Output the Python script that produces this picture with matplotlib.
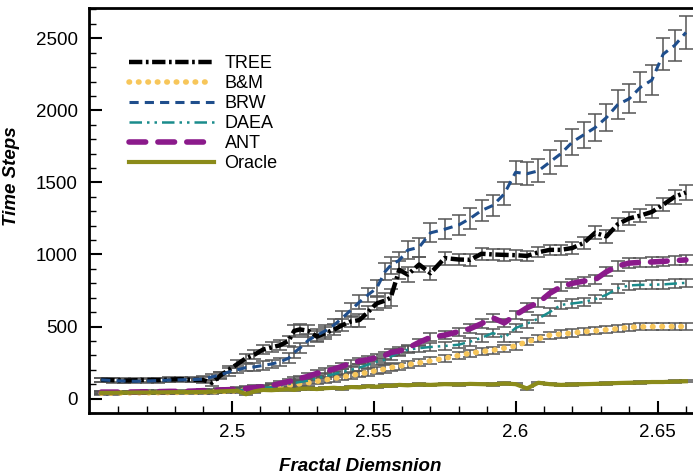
import numpy as np
import matplotlib.pyplot as plt

plt.rcParams['font.family'] = ['Liberation Sans', 'DejaVu Sans']

# data to plot
fd = [2.454, 2.458, 2.462, 2.466, 2.470, 2.474, 2.478, 2.482, 2.486, 2.490,
      2.493, 2.496, 2.499, 2.502, 2.505, 2.508, 2.511, 2.514, 2.517, 2.520,
      2.522, 2.524, 2.527, 2.530, 2.533, 2.536, 2.539, 2.542, 2.545, 2.548,
      2.551, 2.554, 2.556, 2.559, 2.562, 2.566, 2.570, 2.575, 2.580, 2.584,
      2.588, 2.592, 2.596, 2.600, 2.604, 2.608, 2.612, 2.616, 2.620, 2.624,
      2.628, 2.632, 2.636, 2.640, 2.644, 2.648, 2.652, 2.656, 2.660]

tree = [130, 128, 125, 127, 130, 128, 132, 135, 130, 128,
        110, 160, 200, 240, 280, 305, 340, 355, 370, 400,
        470, 480, 470, 430, 455, 478, 510, 535, 545, 600,
        660, 680, 700, 893, 860, 930, 870, 975, 965, 963,
        1005, 1000, 997, 995, 990, 1015, 1032, 1032, 1045, 1080,
        1150, 1125, 1210, 1250, 1270, 1295, 1345, 1400, 1430]
bm = [38, 38, 39, 40, 40, 41, 42, 43, 44, 45,
      47, 50, 52, 55, 58, 62, 68, 75, 82, 90,
      96, 102, 110, 120, 130, 140, 150, 160, 172, 182,
      195, 205, 215, 225, 235, 248, 262, 280, 300, 315,
      326, 335, 350, 365, 395, 415, 440, 448, 455, 465,
      470, 478, 485, 495, 498, 499, 500, 500, 500]
brw = [130, 125, 122, 120, 122, 125, 128, 130, 132, 135,
       150, 165, 185, 200, 215, 220, 230, 240, 255, 280,
       320, 350, 405, 440, 470, 510, 560, 615, 670, 720,
       765, 880, 925, 960, 1030, 1050, 1150, 1175, 1205, 1250,
       1305, 1340, 1420, 1570, 1560, 1580, 1640, 1700, 1780, 1830,
       1880, 1950, 2040, 2080, 2160, 2210, 2390, 2450, 2540]
daea = [40, 40, 41, 42, 43, 44, 45, 46, 47, 48,
        50, 52, 55, 58, 62, 66, 72, 80, 90, 100,
        108, 115, 125, 140, 155, 170, 185, 200, 215, 235,
        255, 270, 290, 320, 339, 350, 358, 365, 374, 395,
        422, 455, 422, 490, 520, 555, 600, 650, 660, 670,
        690, 720, 765, 785, 789, 790, 792, 798, 803]
ant = [45, 45, 45, 46, 47, 48, 50, 50, 52, 55,
       56, 60, 62, 65, 70, 76, 82, 90, 105, 118,
       128, 140, 155, 175, 190, 205, 225, 245, 260, 270,
       285, 300, 320, 330, 350, 390, 425, 440, 465, 485,
       520, 560, 525, 580, 630, 665, 730, 776, 800, 815,
       825, 880, 920, 940, 945, 948, 952, 958, 962]
oracle = [40, 40, 41, 42, 42, 43, 44, 45, 45, 46,
          48, 50, 52, 55, 30, 50, 60, 58, 62, 65,
          60, 68, 70, 66, 72, 75, 70, 80, 78, 85,
          82, 90, 88, 95, 92, 98, 95, 100, 98, 102,
          100, 98, 105, 100, 70, 110, 100, 95, 98, 100,
          102, 105, 108, 110, 112, 115, 115, 118, 120]

# error bar half-lengths
tree_err = [15, 15, 15, 15, 15, 15, 15, 15, 15, 20,
            20, 25, 25, 30, 30, 30, 30, 35, 35, 35,
            40, 40, 40, 40, 40, 40, 40, 40, 45, 45,
            45, 50, 60, 60, 50, 50, 50, 45, 40, 40,
            40, 40, 40, 35, 35, 35, 35, 35, 40, 40,
            45, 45, 45, 45, 45, 45, 45, 50, 50]
bm_err = [10, 10, 10, 10, 10, 10, 10, 10, 10, 10,
          12, 12, 12, 15, 15, 15, 15, 18, 18, 18,
          20, 20, 20, 20, 22, 22, 22, 22, 22, 25,
          25, 25, 25, 25, 25, 25, 25, 25, 25, 25,
          25, 25, 25, 25, 25, 25, 25, 25, 25, 25,
          25, 25, 25, 25, 25, 25, 25, 25, 25]
brw_err = [15, 15, 15, 15, 15, 15, 15, 15, 15, 20,
           20, 20, 25, 25, 25, 30, 30, 30, 30, 35,
           35, 35, 40, 40, 40, 45, 45, 50, 50, 50,
           55, 60, 60, 60, 60, 65, 65, 70, 70, 75,
           75, 75, 80, 80, 80, 80, 85, 85, 90, 90,
           95, 95, 100, 100, 105, 105, 110, 110, 115]
daea_err = [10, 10, 10, 10, 10, 10, 10, 10, 10, 10,
            12, 12, 12, 15, 15, 15, 15, 18, 18, 18,
            20, 20, 20, 20, 22, 22, 22, 22, 22, 25,
            25, 25, 25, 25, 25, 25, 25, 25, 25, 28,
            28, 28, 28, 28, 28, 28, 28, 30, 30, 30,
            30, 30, 30, 30, 30, 30, 30, 30, 30]
ant_err = [10, 10, 10, 10, 10, 10, 10, 10, 10, 10,
           12, 12, 12, 15, 15, 15, 15, 18, 18, 18,
           20, 20, 20, 20, 22, 22, 22, 22, 22, 25,
           25, 25, 25, 25, 25, 25, 28, 28, 28, 30,
           30, 30, 30, 30, 30, 30, 30, 30, 32, 32,
           32, 32, 32, 32, 32, 32, 32, 32, 32]
oracle_err = [8, 8, 8, 8, 8, 8, 8, 8, 8, 8,
              8, 8, 8, 8, 8, 8, 8, 8, 8, 8,
              8, 8, 8, 8, 8, 8, 8, 8, 8, 8,
              8, 8, 8, 8, 8, 8, 8, 8, 8, 8,
              8, 8, 8, 8, 8, 8, 8, 8, 8, 8,
              8, 8, 8, 8, 8, 8, 8, 8, 8]

labels = ['TREE', 'B&M', 'BRW', 'DAEA', 'ANT', 'Oracle']
series = [tree, bm, brw, daea, ant, oracle]
errors = [tree_err, bm_err, brw_err, daea_err, ant_err, oracle_err]
colors = ['black', '#f7c65a', '#1f4e8c', '#1a8c8c', '#8b1a8b', '#8b8b1a']
styles = [(0, (3, 0.8, 0.6, 0.8)), (0, (0.1, 1.6)), (0, (3, 2)),
          (0, (5, 2, 1, 2, 1, 2)), (0, (3, 2.2)), '-']
widths = [3.2, 4, 2.2, 1.8, 4, 3]
caps = ['butt', 'round', 'butt', 'butt', 'round', 'butt']

fig = plt.figure(figsize=(6.93, 4.74), dpi=100)
ax = fig.add_axes([89 / 693, 61 / 474, 604 / 693, 405 / 474])

x = np.array(fd)
for vals, err in zip(series, errors):
    ax.errorbar(x, vals, yerr=err, fmt='none', ecolor='#555555',
                elinewidth=1.1, capsize=5, capthick=1.1, zorder=2)

for vals, lab, c, ls, lw, cs in zip(series, labels, colors, styles, widths, caps):
    ax.plot(x, vals, color=c, linestyle=ls, linewidth=lw,
            dash_capstyle=cs, label=lab, zorder=3)

ax.set_xlim(2.4497, 2.6625)
ax.set_ylim(-100, 2710)
ax.set_xticks([2.5, 2.55, 2.6, 2.65])
ax.set_xticklabels(['2.5', '2.55', '2.6', '2.65'])
ax.set_xticks(np.arange(2.46, 2.665, 0.01), minor=True)
ax.set_yticks([0, 500, 1000, 1500, 2000, 2500])
ax.set_yticks(np.arange(-100, 2701, 100), minor=True)
ax.tick_params(which='both', direction='in', labelsize=13.5, top=False, right=False)
ax.tick_params(which='major', length=9, width=1.5, pad=8)
ax.tick_params(which='minor', length=5, width=1)
ax.spines['right'].set_visible(False)
for s in ['left', 'top', 'bottom']:
    ax.spines[s].set_linewidth(2)

ax.set_xlabel('Fractal Diemsnion', fontsize=13.5, fontweight='bold', style='italic')
ax.set_ylabel('Time Steps', fontsize=13.5, fontweight='bold', style='italic')
ax.xaxis.set_label_coords(0.449, -0.11)
ax.yaxis.set_label_coords(-0.115, 0.585)

ax.legend(loc='upper left', bbox_to_anchor=(0.045, 0.915), frameon=False,
          fontsize=13, handlelength=4.7, handletextpad=0.6, labelspacing=0.17,
          borderpad=0.2)

plt.savefig('out.png', dpi=100)
